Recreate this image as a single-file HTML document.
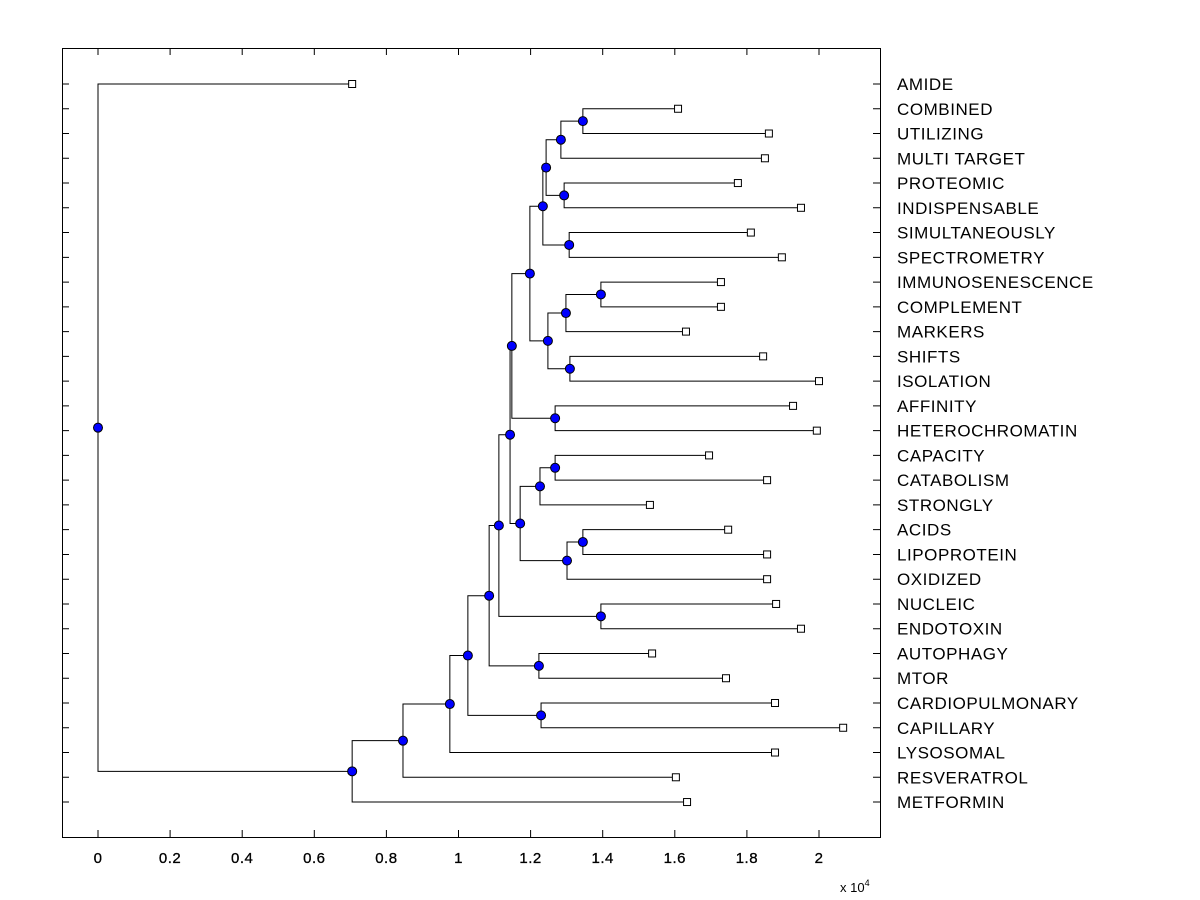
<!DOCTYPE html>
<html><head><meta charset="utf-8"><style>
html,body{margin:0;padding:0;background:#fff;width:1200px;height:900px;overflow:hidden}
svg{display:block;font-family:"Liberation Sans",sans-serif}
</style></head><body>
<svg id="chart" width="1200" height="900" viewBox="0 0 1200 900" xmlns="http://www.w3.org/2000/svg">
<rect x="62.5" y="48.5" width="818" height="789" fill="#fff" stroke="#000" stroke-width="1"/>
<g id="ticks"></g><g id="links"></g><g id="nodes"></g><g id="labels"></g>
<text x="840" y="892" font-size="13">x 10<tspan font-size="9" dy="-6">4</tspan></text>
</svg>
<script>
const leafNames=["AMIDE","COMBINED","UTILIZING","MULTI TARGET","PROTEOMIC","INDISPENSABLE","SIMULTANEOUSLY","SPECTROMETRY","IMMUNOSENESCENCE","COMPLEMENT","MARKERS","SHIFTS","ISOLATION","AFFINITY","HETEROCHROMATIN","CAPACITY","CATABOLISM","STRONGLY","ACIDS","LIPOPROTEIN","OXIDIZED","NUCLEIC","ENDOTOXIN","AUTOPHAGY","MTOR","CARDIOPULMONARY","CAPILLARY","LYSOSOMAL","RESVERATROL","METFORMIN"];
const leafValues=[0.705,1.609,1.861,1.850,1.775,1.950,1.811,1.897,1.728,1.728,1.631,1.845,2.0,1.928,1.994,1.695,1.856,1.531,1.748,1.856,1.856,1.881,1.950,1.537,1.742,1.878,2.067,1.878,1.603,1.634];
const mergeLeft=[1,30,4,31,6,33,8,36,11,37,35,13,40,15,43,18,45,44,42,21,48,23,50,25,52,54,55,56,0];
const mergeRight=[2,3,5,32,7,34,9,10,12,38,39,14,41,16,17,19,20,46,47,22,49,24,51,26,53,27,28,29,57];
const mergeHeight=[1.345,1.284,1.293,1.243,1.307,1.234,1.395,1.298,1.309,1.248,1.198,1.268,1.148,1.268,1.226,1.345,1.301,1.171,1.143,1.395,1.112,1.223,1.085,1.229,1.026,0.976,0.846,0.705,0];
const xTicks=[0,0.2,0.4,0.6,0.8,1,1.2,1.4,1.6,1.8,2];

const NS="http://www.w3.org/2000/svg";
const xs=v=>98+v*360.5;
const ys=i=>84+i*24.76;
function mk(tag,attrs,parent){const e=document.createElementNS(NS,tag);for(const k in attrs)e.setAttribute(k,attrs[k]);parent.appendChild(e);return e;}
const gT=document.getElementById('ticks'),gL=document.getElementById('links'),gN=document.getElementById('nodes'),gLab=document.getElementById('labels');
const n=leafNames.length;
const px=[],py=[];
for(let i=0;i<n;i++){px.push(xs(leafValues[i]));py.push(ys(i));}
for(let m=0;m<mergeLeft.length;m++){
  const a=mergeLeft[m],b=mergeRight[m],x=xs(mergeHeight[m]);
  const y=(py[a]+py[b])/2;
  px.push(x);py.push(y);
  const p=mk('path',{d:`M${px[a]},${py[a]}H${x}V${py[b]}H${px[b]}`,fill:'none',stroke:'#000','stroke-width':1},gL);
  
  
}
for(let m=0;m<mergeLeft.length;m++){
  const c=mk('circle',{cx:px[n+m],cy:py[n+m],r:4.5,fill:'#0000ff',stroke:'#000','stroke-width':1},gN);
  
  
}
for(let i=0;i<n;i++){
  const r=mk('rect',{x:px[i]-3.5,y:py[i]-3.5,width:7,height:7,fill:'#fff',stroke:'#000','stroke-width':1},gN);
  
  
  const t=mk('text',{x:897,y:py[i]+6,'font-size':17,'letter-spacing':0.55},gLab);
  t.textContent=leafNames[i];
  
  
  const tk=mk('path',{d:`M62,${py[i]}h7M880,${py[i]}h-7`,stroke:'#000','stroke-width':1},gT);
  
  
}
xTicks.forEach(v=>{
  const x=xs(v);
  const tk=mk('path',{d:`M${x},837v-7M${x},48v7`,stroke:'#000','stroke-width':1},gT);
  
  
  const t=mk('text',{x:x,y:863,'font-size':15,'text-anchor':'middle','letter-spacing':0.5,stroke:'#000','stroke-width':0.3},gLab);
  t.textContent=String(v);
  
  
});
</script>
</body></html>
